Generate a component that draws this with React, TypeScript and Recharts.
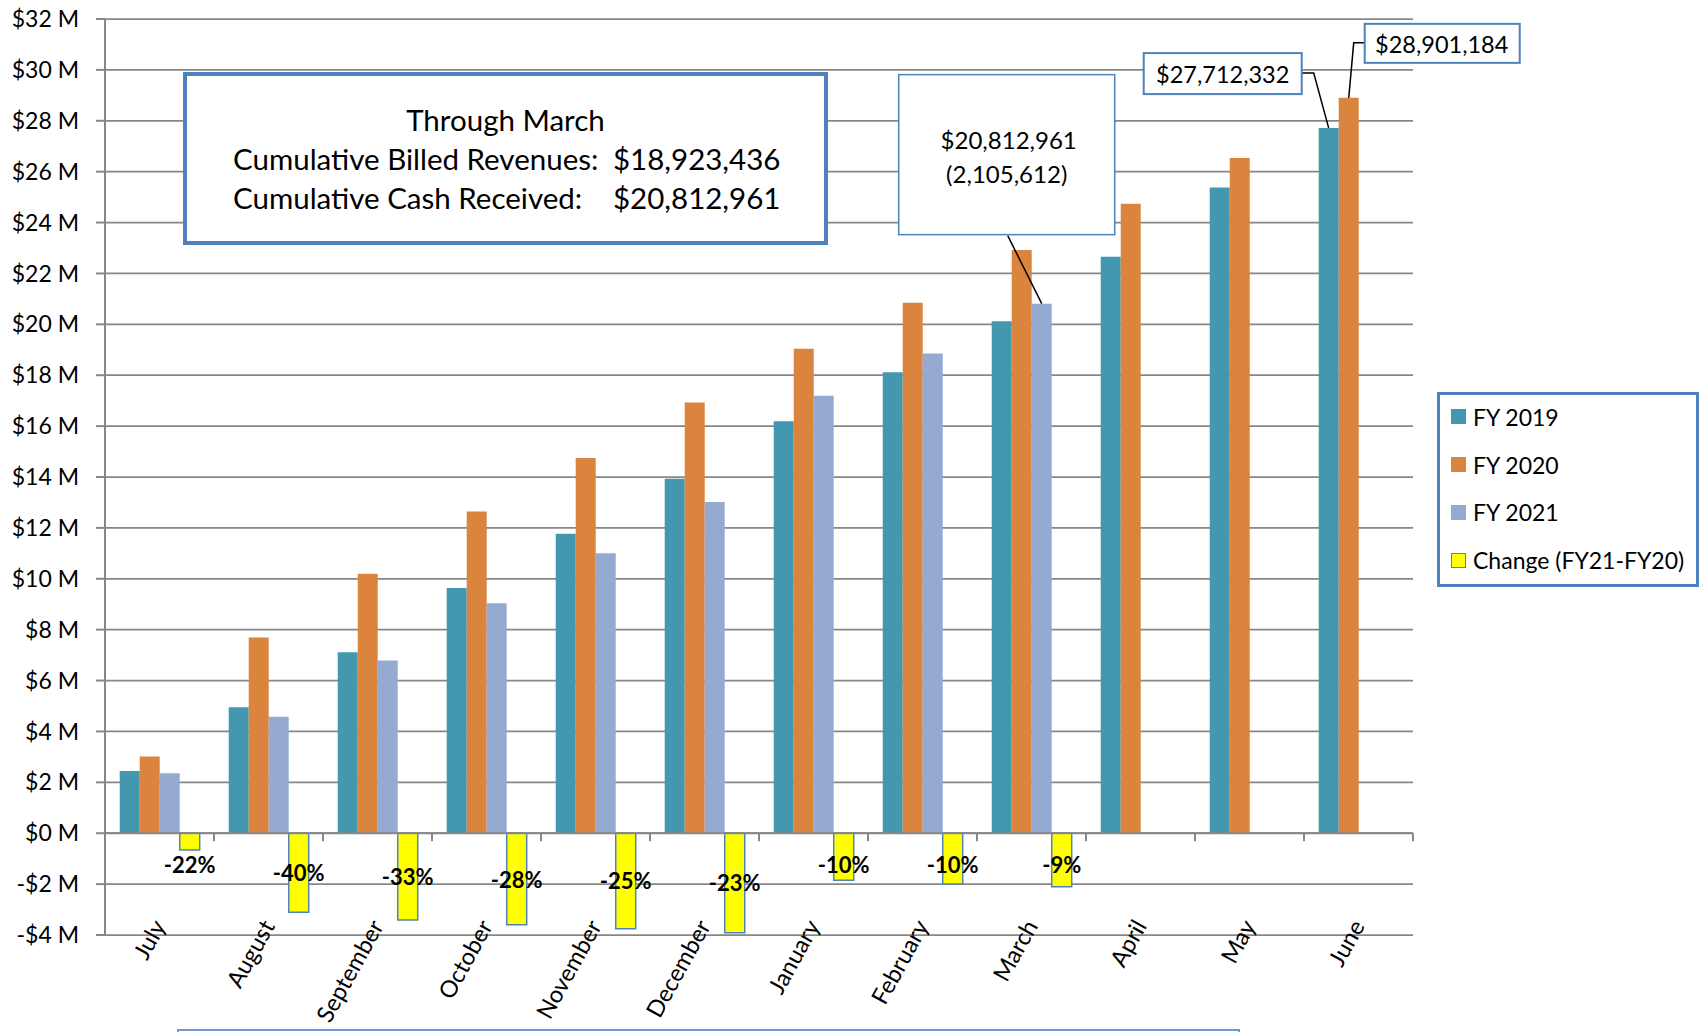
import React from "react";
import { BarChart, Bar, XAxis, YAxis, CartesianGrid, ReferenceLine, LabelList } from "recharts";

// values in $ millions, cumulative by fiscal month
const months = ["July", "August", "September", "October", "November", "December", "January", "February", "March", "April", "May", "June"];
const fy2019 = [2.45, 4.95, 7.11, 9.64, 11.77, 13.93, 16.19, 18.12, 20.12, 22.66, 25.38, 27.712332];
const fy2020 = [3.02, 7.69, 10.2, 12.64, 14.75, 16.93, 19.04, 20.85, 22.918573, 24.74, 26.54, 28.901184];
const fy2021 = [2.36, 4.58, 6.79, 9.04, 11.0, 13.02, 17.19, 18.85, 20.812961, null, null, null];
const change = [-0.66, -3.11, -3.41, -3.6, -3.75, -3.91, -1.85, -2.0, -2.105612, null, null, null];
const changePct = ["-22%", "-40%", "-33%", "-28%", "-25%", "-23%", "-10%", "-10%", "-9%", "", "", ""];
const yTicks = [-4, -2, 0, 2, 4, 6, 8, 10, 12, 14, 16, 18, 20, 22, 24, 26, 28, 30, 32];

const billedThroughMarch = 18923436;
const cashThroughMarch = 20812961;

const series = [
  { key: "fy2019", name: "FY 2019", color: "#4398AF", stroke: "none" },
  { key: "fy2020", name: "FY 2020", color: "#DB843D", stroke: "none" },
  { key: "fy2021", name: "FY 2021", color: "#95AAD1", stroke: "none" },
  { key: "change", name: "Change (FY21-FY20)", color: "#FFFF00", stroke: "#4F81BD" },
];

const data = months.map((m, i) => ({
  month: m,
  fy2019: fy2019[i],
  fy2020: fy2020[i],
  fy2021: fy2021[i],
  change: change[i],
}));

const FONT = 'Lato, "Open Sans", sans-serif';
const BLUE = "#4F81BD";
const GRID = "#878787";

const dollars = (m: number) => "$" + Math.round(m * 1e6).toLocaleString("en-US");
const yFmt = (v: number) => (v < 0 ? `-$${-v} M` : `$${v} M`);

const box = (p: any) => p.viewBox ?? p;

function MonthTick(props: any) {
  const { x, y, payload } = props;
  const ax = x + 7;
  const ay = y - 9;
  return (
    <text x={ax} y={ay} transform={`rotate(-61, ${ax}, ${ay})`} textAnchor="end" fontSize={23.5} fontFamily={FONT} fill="#000">
      {payload.value}
    </text>
  );
}

// zero line with tick marks on the category boundaries
function ZeroAxis(props: any) {
  const { x1, x2, y1 } = props;
  const step = (x2 - x1) / months.length;
  return (
    <g>
      <line x1={x1} x2={x2} y1={y1} y2={y1} stroke={GRID} strokeWidth={2} />
      {months.map((m, i) => (
        <line key={m} x1={x1 + step * (i + 1)} x2={x1 + step * (i + 1)} y1={y1} y2={y1 + 8} stroke={GRID} strokeWidth={2} />
      ))}
    </g>
  );
}

function PctLabel(props: any) {
  const { index } = props;
  const txt = changePct[index];
  if (!txt) return null;
  const { x, y, width, height } = box(props);
  const top = Math.min(y, y + height);
  const bottom = Math.max(y, y + height);
  const cy = Math.max((top + bottom) / 2, top + 31);
  return (
    <text x={x + width / 2} y={cy} textAnchor="middle" dominantBaseline="central" fontSize={22} fontWeight="bold" fontFamily={FONT} fill="#000">
      {txt}
    </text>
  );
}

function Callout2019(props: any) {
  if (props.index !== 11) return null;
  const { x, y, width } = box(props);
  const cx = x + width / 2;
  return (
    <g>
      <polyline points={`${cx},${y} ${cx - 15},${y - 55} ${cx - 27},${y - 55}`} fill="none" stroke="#000" strokeWidth={1.5} />
      <rect x={cx - 185} y={y - 75} width={158} height={41} fill="#fff" stroke={BLUE} strokeWidth={2} />
      <text x={cx - 106} y={y - 54} textAnchor="middle" dominantBaseline="central" fontSize={23.5} fontFamily={FONT} fill="#000">
        {dollars(fy2019[11])}
      </text>
    </g>
  );
}

function Callout2020(props: any) {
  if (props.index !== 11) return null;
  const { x, y, width } = box(props);
  const cx = x + width / 2;
  return (
    <g>
      <polyline points={`${cx},${y} ${cx + 5},${y - 55} ${cx + 16},${y - 55}`} fill="none" stroke="#000" strokeWidth={1.5} />
      <rect x={cx + 16} y={y - 74} width={155} height={39} fill="#fff" stroke={BLUE} strokeWidth={2} />
      <text x={cx + 93} y={y - 54} textAnchor="middle" dominantBaseline="central" fontSize={23.5} fontFamily={FONT} fill="#000">
        {dollars(fy2020[11])}
      </text>
    </g>
  );
}

function CalloutMarch(props: any) {
  if (props.index !== 8) return null;
  const { x, y, width } = box(props);
  const cx = x + width / 2;
  const diff = Math.round(-(change[8] as number) * 1e6).toLocaleString("en-US");
  return (
    <g>
      <line x1={cx} y1={y} x2={cx - 34} y2={y - 68} stroke="#000" strokeWidth={1.5} />
      <rect x={cx - 143} y={y - 229} width={216} height={160} fill="#fff" stroke={BLUE} strokeWidth={1.5} />
      <text x={cx - 33} y={y - 164} textAnchor="middle" dominantBaseline="central" fontSize={24} fontFamily={FONT} fill="#000">
        {dollars(fy2021[8] as number)}
      </text>
      <text x={cx - 35} y={y - 130} textAnchor="middle" dominantBaseline="central" fontSize={24} fontFamily={FONT} fill="#000">
        ({diff})
      </text>
    </g>
  );
}

export default function App() {
  return (
    <div style={{ position: "absolute", left: 0, top: 0, width: 1704, height: 1032, overflow: "hidden", background: "#fff", fontFamily: FONT }}>
      <BarChart
        width={1704}
        height={1032}
        data={data}
        margin={{ top: 19, right: 291, bottom: 0, left: 0 }}
        barCategoryGap="13.5%"
        barGap={0}
      >
        <CartesianGrid vertical={false} stroke={GRID} strokeWidth={1.75} />
        <XAxis dataKey="month" axisLine={false} tickLine={false} tickSize={0} tickMargin={0} interval={0} height={97} tick={<MonthTick />} />
        <YAxis
          domain={[-4, 32]}
          ticks={yTicks}
          tickFormatter={yFmt}
          width={105}
          interval={0}
          axisLine={{ stroke: GRID, strokeWidth: 2 }}
          tickLine={{ stroke: GRID, strokeWidth: 2 }}
          tickSize={9}
          tickMargin={17}
          tick={{ fill: "#000", fontSize: 23, fontFamily: FONT }}
        />
        <ReferenceLine y={0} shape={<ZeroAxis />} />
        <Bar dataKey="fy2019" fill={series[0].color} isAnimationActive={false}>
          <LabelList content={<Callout2019 />} />
        </Bar>
        <Bar dataKey="fy2020" fill={series[1].color} isAnimationActive={false}>
          <LabelList content={<Callout2020 />} />
        </Bar>
        <Bar dataKey="fy2021" fill={series[2].color} isAnimationActive={false}>
          <LabelList content={<CalloutMarch />} />
        </Bar>
        <Bar dataKey="change" fill={series[3].color} stroke={series[3].stroke} strokeWidth={1.5} isAnimationActive={false}>
          <LabelList content={<PctLabel />} />
        </Bar>
      </BarChart>

      {/* summary box */}
      <div
        style={{
          position: "absolute",
          left: 183,
          top: 72,
          width: 645,
          height: 173,
          boxSizing: "border-box",
          border: `4px solid ${BLUE}`,
          background: "#fff",
          fontSize: 29.5,
          color: "#000",
        }}
      >
        <div style={{ position: "absolute", left: 0, right: 0, top: 25, textAlign: "center", lineHeight: "38px" }}>Through March</div>
        <div style={{ position: "absolute", left: 46, top: 64, lineHeight: "38px", whiteSpace: "nowrap" }}>Cumulative Billed Revenues:</div>
        <div style={{ position: "absolute", left: 426, top: 64, lineHeight: "38px" }}>{dollars(billedThroughMarch / 1e6)}</div>
        <div style={{ position: "absolute", left: 46, top: 103, lineHeight: "38px", whiteSpace: "nowrap" }}>Cumulative Cash Received:</div>
        <div style={{ position: "absolute", left: 426, top: 103, lineHeight: "38px" }}>{dollars(cashThroughMarch / 1e6)}</div>
      </div>

      {/* legend */}
      <div
        style={{
          position: "absolute",
          left: 1437,
          top: 392,
          width: 262,
          height: 195,
          boxSizing: "border-box",
          border: `3px solid ${BLUE}`,
          background: "#fff",
        }}
      >
        {series.map((s) => (
          <div key={s.key} style={{ height: 47.8, marginTop: s.key === "fy2019" ? -2 : 0, display: "flex", alignItems: "center", paddingLeft: 11 }}>
            <div
              style={{
                width: 15,
                height: 15,
                boxSizing: "border-box",
                background: s.color,
                border: s.stroke === "none" ? "none" : `1.5px solid ${s.stroke}`,
                marginRight: 7,
              }}
            />
            <span style={{ fontSize: 23, color: "#000", whiteSpace: "nowrap" }}>{s.name}</span>
          </div>
        ))}
      </div>

      {/* top edge of the box below the chart */}
      <div style={{ position: "absolute", left: 177, top: 1029, width: 1063, height: 20, border: "2px solid #6C9BD2", boxSizing: "border-box" }} />
    </div>
  );
}
